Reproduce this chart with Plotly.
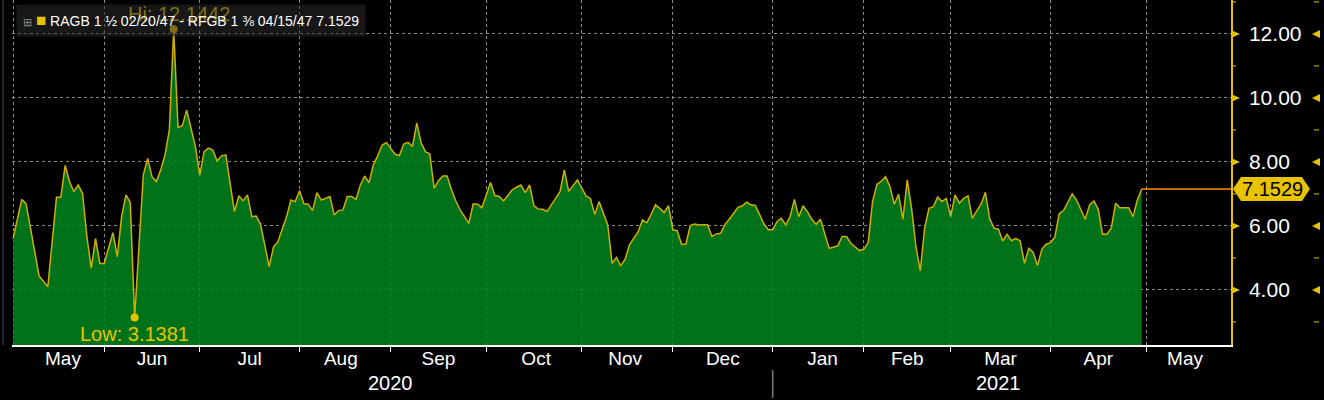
import plotly.graph_objects as go

# ---------------- data ----------------
dates = [
    "2020-05-01", "2020-05-05", "2020-05-06", "2020-05-08", "2020-05-11", "2020-05-13",
    "2020-05-15", "2020-05-18", "2020-05-19", "2020-05-20", "2020-05-21", "2020-05-22",
    "2020-05-25", "2020-05-26", "2020-05-27", "2020-05-28", "2020-05-29",
    "2020-06-01", "2020-06-02", "2020-06-03", "2020-06-04", "2020-06-05", "2020-06-08",
    "2020-06-09", "2020-06-10", "2020-06-12", "2020-06-15", "2020-06-16", "2020-06-17",
    "2020-06-18", "2020-06-19", "2020-06-22", "2020-06-23", "2020-06-24", "2020-06-25",
    "2020-06-26", "2020-06-30",
    "2020-07-01", "2020-07-02", "2020-07-03", "2020-07-06", "2020-07-07", "2020-07-08",
    "2020-07-09", "2020-07-13", "2020-07-14", "2020-07-15", "2020-07-16", "2020-07-17",
    "2020-07-20", "2020-07-21", "2020-07-23", "2020-07-24", "2020-07-27", "2020-07-29",
    "2020-07-30", "2020-07-31",
    "2020-08-03", "2020-08-04", "2020-08-05", "2020-08-06", "2020-08-07", "2020-08-10",
    "2020-08-12", "2020-08-13", "2020-08-14", "2020-08-17", "2020-08-18", "2020-08-19",
    "2020-08-20", "2020-08-21", "2020-08-24", "2020-08-25", "2020-08-26", "2020-08-27",
    "2020-08-28", "2020-08-31",
    "2020-09-01", "2020-09-02", "2020-09-03", "2020-09-04", "2020-09-07", "2020-09-08",
    "2020-09-09", "2020-09-10", "2020-09-11", "2020-09-14", "2020-09-15", "2020-09-16",
    "2020-09-17", "2020-09-18", "2020-09-21", "2020-09-22", "2020-09-23", "2020-09-24",
    "2020-09-25", "2020-09-28", "2020-09-29", "2020-09-30",
    "2020-10-01", "2020-10-02", "2020-10-05", "2020-10-06", "2020-10-07", "2020-10-08",
    "2020-10-09", "2020-10-12", "2020-10-13", "2020-10-14", "2020-10-15", "2020-10-16",
    "2020-10-19", "2020-10-20", "2020-10-21", "2020-10-22", "2020-10-23", "2020-10-26",
    "2020-10-27", "2020-10-28", "2020-10-30",
    "2020-11-02", "2020-11-03", "2020-11-04", "2020-11-05", "2020-11-06", "2020-11-09",
    "2020-11-10", "2020-11-11", "2020-11-12", "2020-11-13", "2020-11-16", "2020-11-17",
    "2020-11-18", "2020-11-19", "2020-11-20", "2020-11-23", "2020-11-24", "2020-11-25",
    "2020-11-26", "2020-11-27", "2020-11-30",
    "2020-12-01", "2020-12-02", "2020-12-03", "2020-12-04", "2020-12-07", "2020-12-08",
    "2020-12-09", "2020-12-10", "2020-12-11", "2020-12-14", "2020-12-15", "2020-12-16",
    "2020-12-17", "2020-12-18", "2020-12-21", "2020-12-22", "2020-12-23", "2020-12-24",
    "2020-12-25", "2020-12-28", "2020-12-30", "2020-12-31",
    "2021-01-01", "2021-01-04", "2021-01-05", "2021-01-06", "2021-01-07", "2021-01-08",
    "2021-01-11", "2021-01-12", "2021-01-13", "2021-01-14", "2021-01-15", "2021-01-18",
    "2021-01-20", "2021-01-21", "2021-01-22", "2021-01-25", "2021-01-26", "2021-01-27",
    "2021-01-28", "2021-01-29",
    "2021-02-01", "2021-02-02", "2021-02-03", "2021-02-04", "2021-02-05", "2021-02-08",
    "2021-02-09", "2021-02-10", "2021-02-11", "2021-02-12", "2021-02-15", "2021-02-16",
    "2021-02-17", "2021-02-18", "2021-02-19", "2021-02-22", "2021-02-23", "2021-02-24",
    "2021-02-25", "2021-02-26",
    "2021-03-01", "2021-03-02", "2021-03-03", "2021-03-04", "2021-03-05", "2021-03-08",
    "2021-03-09", "2021-03-10", "2021-03-11", "2021-03-12", "2021-03-15", "2021-03-16",
    "2021-03-17", "2021-03-18", "2021-03-19", "2021-03-22", "2021-03-23", "2021-03-24",
    "2021-03-25", "2021-03-26", "2021-03-29", "2021-03-30", "2021-03-31",
    "2021-04-01", "2021-04-02", "2021-04-05", "2021-04-06", "2021-04-07", "2021-04-08",
    "2021-04-09", "2021-04-13", "2021-04-14", "2021-04-15", "2021-04-16", "2021-04-19",
    "2021-04-20", "2021-04-21", "2021-04-22", "2021-04-23", "2021-04-26", "2021-04-27",
    "2021-04-28", "2021-04-29", "2021-04-30",
]
values = [
    5.61, 6.83, 6.69, 5.15, 4.44, 4.10,
    6.90, 6.90, 7.89, 7.39, 7.07, 7.28,
    7.02, 5.67, 4.68, 5.61, 4.83,
    4.83, 5.35, 5.79, 5.04, 6.29, 6.97,
    6.73, 3.1381, 7.59, 8.11, 7.54, 7.39,
    7.75, 8.22, 9.00, 12.1442, 9.08, 9.13,
    9.62, 8.48,
    7.59, 8.32, 8.43, 8.37, 8.03, 8.19,
    8.22, 6.45, 6.94, 6.79, 6.97, 6.29,
    6.31, 6.06, 4.73, 5.35, 5.51, 6.29,
    6.81, 6.76,
    7.10, 6.69, 6.68, 6.48, 7.04, 6.81,
    6.92, 6.34, 6.48, 6.50, 6.92, 6.92,
    6.83, 7.28, 7.56, 7.35, 7.91, 8.19,
    8.52, 8.61,
    8.43, 8.24, 8.20, 8.56, 8.61, 8.48,
    9.21, 8.60, 8.32, 8.25, 7.18, 7.41,
    7.56, 7.56, 7.13, 6.78, 6.50, 6.29,
    6.08, 6.69, 6.68, 6.57,
    7.00, 7.36, 6.95, 6.92, 6.78, 6.94,
    7.13, 7.21, 7.28, 7.04, 7.28, 6.63,
    6.53, 6.52, 6.45, 6.66, 6.86, 7.07,
    7.75, 7.08, 7.44,
    7.18, 6.94, 6.86, 6.36, 6.76, 6.40,
    6.03, 4.83, 5.02, 4.76, 4.96, 5.41,
    5.61, 5.82, 6.19, 6.10, 6.36, 6.66,
    6.55, 6.42, 6.63,
    5.88, 5.85, 5.43, 5.43, 6.01, 6.06,
    6.03, 6.04, 6.04, 5.67, 5.75, 5.77,
    6.05, 6.21, 6.40, 6.58, 6.63, 6.74,
    6.66, 6.64, 6.06, 5.88,
    5.88, 6.14, 6.24, 6.03, 6.29, 6.83,
    6.29, 6.63, 6.45, 6.21, 6.05, 6.21,
    5.30, 5.35, 5.38, 5.67, 5.67, 5.46,
    5.35, 5.23,
    5.27, 5.48, 6.76, 7.30, 7.39, 7.54,
    7.23, 6.68, 6.99, 6.21, 7.44, 6.55,
    5.35, 4.60, 5.93, 6.55, 6.60, 6.90,
    6.76, 6.86,
    6.29, 6.97, 6.71, 6.86, 6.94, 6.24,
    6.47, 6.68, 7.05, 6.22, 5.93, 5.90,
    5.53, 5.74, 5.54, 5.61, 5.54, 4.83,
    5.30, 5.18, 4.76, 5.27, 5.43,
    5.48, 5.65, 6.38, 6.48, 6.73, 7.00,
    6.81, 6.21, 6.66, 6.78, 6.52, 5.74,
    5.74, 5.93, 6.71, 6.57, 6.57, 6.57,
    6.29, 6.81, 7.1529,
]
series_name = "RAGB 1 ½ 02/20/47 - RFGB 1 ⅜ 04/15/47"
hi_date, hi_value = "2020-06-23", 12.1442
low_date, low_value = "2020-06-10", 3.1381
last_value = 7.1529
y_major = [4, 6, 8, 10, 12]
y_minor = [3, 5, 7, 9, 11, 13]
y_labels = ["4.00", "6.00", "8.00", "10.00", "12.00"]
year_labels = ["2020", "2021"]
year_label_dates = ["2020-09-01", "2021-03-16"]
year_boundary = "2021-01-01"
x_range = ["2020-04-30 18:00", "2021-05-28 14:00"]
y_range = [2.28, 13.06]

# ---------------- styles ----------------
FONT = "Liberation Sans, Arial, sans-serif"
YELLOW = "#e6c200"
LINE = "#cfae00"
GRID = "#8c8c8c"

fig = go.Figure()
fig.add_trace(go.Scatter(
    x=dates, y=values, mode="lines",
    line=dict(color=LINE, width=1.5),
    fill="tozeroy", fillcolor="rgba(0,134,30,0.86)",
    hoverinfo="x+y", name=series_name,
))
fig.add_trace(go.Scatter(
    x=[dates[-1], x_range[1]], y=[last_value, last_value], mode="lines",
    line=dict(color="#ff8c00", width=1.5), hoverinfo="skip",
))
fig.add_trace(go.Scatter(
    x=[hi_date, low_date], y=[hi_value, low_value], mode="markers",
    marker=dict(color=YELLOW, size=8), hoverinfo="skip",
))

annotations = [
    dict(x=hi_date, y=hi_value, xref="x", yref="y", text=f"Hi: {hi_value:.4f}",
         showarrow=False, yanchor="bottom", yshift=2, xshift=5,
         font=dict(family=FONT, size=20, color=YELLOW)),
    dict(x=low_date, y=low_value, xref="x", yref="y", text=f"Low: {low_value:.4f}",
         showarrow=False, yanchor="top", yshift=-3,
         font=dict(family=FONT, size=20, color=YELLOW)),
    dict(x=0, y=1, xref="paper", yref="paper", xanchor="left", yanchor="top",
         xshift=4, yshift=-4, showarrow=False, align="left",
         bgcolor="rgba(42,42,42,0.55)", borderpad=6,
         text=("<span style='color:#8a8a8a;font-size:11px'>⊞</span> "
               f"<span style='color:{YELLOW};font-size:17px'>■</span> "
               f"{series_name} {last_value:.4f}"),
         font=dict(family=FONT, size=14, color="#ffffff")),
    dict(x=1, y=last_value, xref="paper", yref="y", xanchor="center", xshift=41,
         text=f"{last_value:.4f}", showarrow=False,
         font=dict(family=FONT, size=20, color="#000000")),
]
for lab, d in zip(year_labels, year_label_dates):
    annotations.append(dict(x=d, y=0, xref="x", yref="paper", text=lab, showarrow=False,
                            yanchor="middle", yshift=-38,
                            font=dict(family=FONT, size=20, color="#ffffff")))

shapes = [
    dict(type="path", xref="paper", yref="y", xsizemode="pixel", ysizemode="pixel",
         xanchor=1, yanchor=last_value,
         path="M 2,0 L 10,12 L 71,12 L 79,0 L 71,-12 L 10,-12 Z",
         fillcolor=YELLOW, line=dict(width=0), layer="above"),
    dict(type="line", xref="x", yref="paper", ysizemode="pixel", yanchor=0,
         x0=year_boundary, x1=year_boundary, y0=-25, y1=-53,
         line=dict(color="#7a7a7a", width=1.5)),
    dict(type="line", xref="paper", yref="paper", xsizemode="pixel", xanchor=0,
         x0=-9, x1=-9, y0=0, y1=1, line=dict(color="#4a4a4a", width=1)),
]
for v in y_major:
    shapes.append(dict(type="path", xref="paper", yref="y", xsizemode="pixel",
                       ysizemode="pixel", xanchor=1, yanchor=v,
                       path="M 0,-4 L 9,0 L 0,4 Z", fillcolor=YELLOW,
                       line=dict(width=0), layer="above"))
    shapes.append(dict(type="path", xref="paper", yref="y", xsizemode="pixel",
                       ysizemode="pixel", xanchor=1, yanchor=v,
                       path="M 89,-4 L 81,0 L 89,4 Z", fillcolor=YELLOW,
                       line=dict(width=0), layer="above"))
for v in y_minor:
    shapes.append(dict(type="line", xref="paper", yref="y", xsizemode="pixel",
                       xanchor=1, x0=0, x1=5, y0=v, y1=v,
                       line=dict(color=YELLOW, width=1), layer="above"))
    shapes.append(dict(type="line", xref="paper", yref="y", xsizemode="pixel",
                       xanchor=1, x0=83, x1=88, y0=v, y1=v,
                       line=dict(color=YELLOW, width=1), layer="above"))

fig.update_layout(
    width=1324, height=400,
    margin=dict(l=12, r=93, t=0, b=55),
    paper_bgcolor="#000000", plot_bgcolor="#000000",
    showlegend=False,
    font=dict(family=FONT, color="#ffffff"),
    annotations=annotations, shapes=shapes,
    xaxis=dict(
        type="date", range=x_range,
        rangebreaks=[dict(bounds=["sat", "mon"])],
        tick0="2020-05-01", dtick="M1", tickformat="%b", ticklabelmode="period",
        ticks="outside", ticklen=5, tickcolor="#ffffff", tickwidth=1,
        ticklabelstandoff=-10,
        showline=True, linecolor="#ffffff", linewidth=1.5,
        showgrid=True, gridcolor=GRID, griddash="3px,3px", gridwidth=1,
        zeroline=False, tickfont=dict(family=FONT, size=19, color="#ffffff"),
        fixedrange=True,
    ),
    yaxis=dict(
        side="right", range=y_range,
        tickvals=y_major, ticktext=y_labels, ticks="",
        ticklabelstandoff=12,
        showline=True, linecolor=YELLOW, linewidth=1.5,
        showgrid=True, gridcolor=GRID, griddash="3px,3px", gridwidth=1,
        zeroline=False, tickfont=dict(family=FONT, size=21, color="#ffffff"),
        fixedrange=True,
    ),
)

fig.write_html(
    "out.html",
    config={"displayModeBar": False},
    post_script="document.body.style.margin='0';document.body.style.background='#000';",
)
